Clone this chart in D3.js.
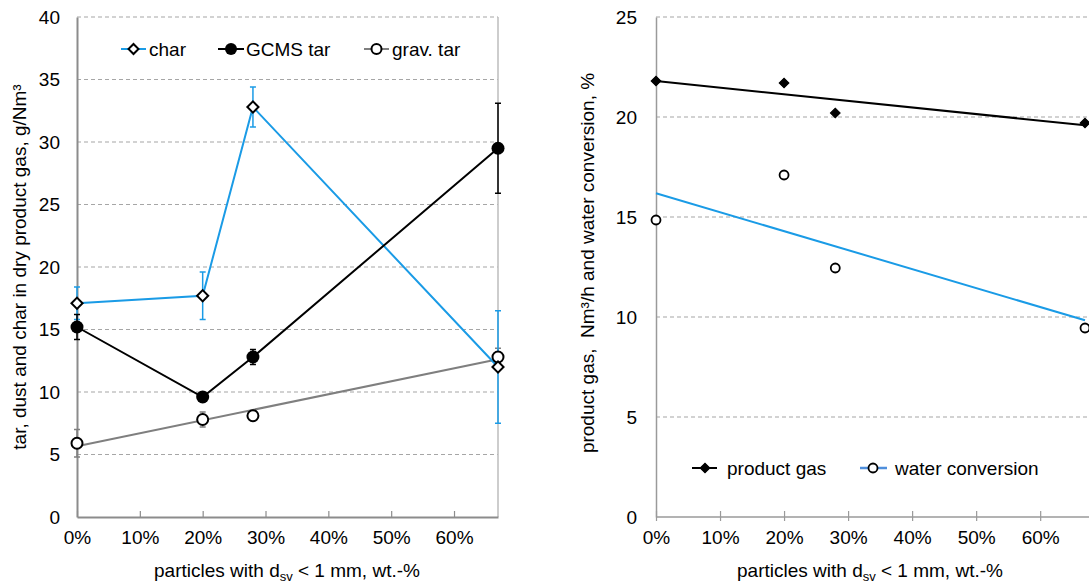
<!DOCTYPE html>
<html>
<head>
<meta charset="utf-8">
<script src="https://cdn.jsdelivr.net/npm/d3@7"></script>
<style>
  html, body { margin: 0; padding: 0; background: #fff; overflow: hidden; }
  svg { display: block; font-family: "Liberation Sans", Arial, sans-serif; }
  text { fill: #000; }
</style>
</head>
<body>
<svg id="chart" width="1089" height="583"></svg>
<script>
// ---------- data ----------
const fineShare = [0, 0.20, 0.28, 0.67];            // particles with d_sv < 1 mm, wt.-%
const xTickValues = [0, 0.1, 0.2, 0.3, 0.4, 0.5, 0.6];

// left chart (g/Nm³)
const charValues = [17.1, 17.7, 32.8, 12.0];
const charErrors = [1.3, 1.9, 1.6, 4.5];
const gcmsValues = [15.2, 9.6, 12.8, 29.5];
const gcmsErrors = [1.0, 0.3, 0.6, 3.6];
const gravValues = [5.9, 7.8, 8.1, 12.8];
const gravErrors = [1.1, 0.6, 0.0, 0.7];
const leftYTicks = [0, 5, 10, 15, 20, 25, 30, 35, 40];

// right chart
const gasValues = [21.8, 21.7, 20.2, 19.7];          // Nm³/h
const waterValues = [14.85, 17.1, 12.45, 9.45];      // %
const rightYTicks = [0, 5, 10, 15, 20, 25];

// ---------- helpers ----------
const svg = d3.select("#chart");
const FS = 19;
const BLUE = "#1a9be6";

function linReg(xs, ys) {
  const n = xs.length;
  const mx = d3.mean(xs), my = d3.mean(ys);
  let sxy = 0, sxx = 0;
  for (let i = 0; i < n; i++) { sxy += (xs[i]-mx)*(ys[i]-my); sxx += (xs[i]-mx)**2; }
  const b = sxy / sxx, a = my - b * mx;
  return x => a + b * x;
}

function drawDiamond(g, x, y, size, fill, stroke, sw) {
  g.append("path").attr("d", d3.symbol().type(d3.symbolSquare).size(size)())
    .attr("transform", `translate(${x},${y}) rotate(45)`)
    .attr("fill", fill).attr("stroke", stroke).attr("stroke-width", sw);
}

function xLabel(g, cx, y) {
  const t = g.append("text").attr("x", cx).attr("y", y).attr("text-anchor", "middle")
    .attr("font-size", FS);
  t.append("tspan").text("particles with d");
  t.append("tspan").attr("font-size", 13).attr("dy", 4).text("sv");
  t.append("tspan").attr("dy", -4).text(" < 1 mm, wt.-%");
}

// ================= LEFT CHART =================
{
  const x = d3.scaleLinear().domain([0, 0.67]).range([77, 498]);
  const y = d3.scaleLinear().domain([0, 40]).range([517, 17]);
  const g = svg.append("g");

  // gridlines
  g.append("g").selectAll("line").data(leftYTicks.filter(d => d > 0)).join("line")
    .attr("x1", x(0)).attr("x2", x(0.67)).attr("y1", d => y(d)).attr("y2", d => y(d))
    .attr("stroke", "#a6a6a6").attr("stroke-width", 1.2).attr("stroke-dasharray", "4,3");
  // right border
  g.append("line").attr("x1", x(0.67)).attr("x2", x(0.67)).attr("y1", y(40)).attr("y2", y(0))
    .attr("stroke", "#bdbdbd").attr("stroke-width", 1.5);

  // x axis
  const xa = g.append("g").attr("transform", `translate(0,${y(0)})`)
    .call(d3.axisBottom(x).tickValues(xTickValues).tickFormat(d3.format(".0%")).tickSizeInner(-6).tickSizeOuter(0).tickPadding(14));
  xa.select(".domain").attr("stroke", "#8c8c8c").attr("stroke-width", 2);
  xa.selectAll(".tick line").attr("stroke", "#8c8c8c").attr("stroke-width", 1.2);
  xa.selectAll("text").attr("font-size", FS).attr("font-family", "Liberation Sans, Arial, sans-serif");

  // y axis
  const ya = g.append("g").attr("transform", `translate(${x(0)},0)`)
    .call(d3.axisLeft(y).tickValues(leftYTicks).tickSize(0).tickPadding(17));
  ya.select(".domain").attr("stroke", "#8c8c8c").attr("stroke-width", 2);
  ya.selectAll("text").attr("font-size", FS).attr("font-family", "Liberation Sans, Arial, sans-serif");

  // axis labels
  g.append("text").attr("transform", `translate(26,${y(20)}) rotate(-90)`)
    .attr("text-anchor", "middle").attr("font-size", FS)
    .text("tar, dust and char in dry product gas, g/Nm³");
  xLabel(g, 287, 577);

  const pts = vals => fineShare.map((f, i) => [x(f), y(vals[i])]);

  // grav tar trendline
  const gravFit = linReg(fineShare, gravValues);
  g.append("line").attr("x1", x(0)).attr("y1", y(gravFit(0))).attr("x2", x(0.67)).attr("y2", y(gravFit(0.67)))
    .attr("stroke", "#7f7f7f").attr("stroke-width", 2);

  // error bars
  function errBars(vals, errs, color) {
    fineShare.forEach((f, i) => {
      if (!errs[i]) return;
      const cx = x(f), y1 = y(vals[i] + errs[i]), y2 = y(vals[i] - errs[i]);
      g.append("line").attr("x1", cx).attr("x2", cx).attr("y1", y1).attr("y2", y2).attr("stroke", color).attr("stroke-width", 1.5);
      [y1, y2].forEach(yy => g.append("line").attr("x1", cx - 3).attr("x2", cx + 3).attr("y1", yy).attr("y2", yy).attr("stroke", color).attr("stroke-width", 1.5));
    });
  }
  errBars(gravValues, gravErrors, "#7f7f7f");
  errBars(charValues, charErrors, BLUE);
  errBars(gcmsValues, gcmsErrors, "#000");

  const line = d3.line();
  g.append("path").attr("d", line(pts(charValues))).attr("fill", "none").attr("stroke", BLUE).attr("stroke-width", 2);
  g.append("path").attr("d", line(pts(gcmsValues))).attr("fill", "none").attr("stroke", "#000").attr("stroke-width", 2);

  // markers
  pts(gravValues).forEach(([px, py]) => g.append("circle").attr("cx", px).attr("cy", py).attr("r", 5.5)
    .attr("fill", "#fff").attr("stroke", "#000").attr("stroke-width", 2));
  pts(gcmsValues).forEach(([px, py]) => g.append("circle").attr("cx", px).attr("cy", py).attr("r", 6.5).attr("fill", "#000"));
  pts(charValues).forEach(([px, py]) => drawDiamond(g, px, py, 62, "#fff", "#000", 2));

  // legend
  const ly = 49;
  const leg = g.append("g");
  leg.append("line").attr("x1", 121).attr("x2", 146).attr("y1", ly).attr("y2", ly).attr("stroke", BLUE).attr("stroke-width", 2);
  drawDiamond(leg, 133.5, ly, 50, "#fff", "#000", 2);
  leg.append("text").attr("x", 149).attr("y", ly + 7).attr("font-size", FS).text("char");
  leg.append("line").attr("x1", 218).attr("x2", 244).attr("y1", ly).attr("y2", ly).attr("stroke", "#000").attr("stroke-width", 2);
  leg.append("circle").attr("cx", 231).attr("cy", ly).attr("r", 6).attr("fill", "#000");
  leg.append("text").attr("x", 246).attr("y", ly + 7).attr("font-size", FS).text("GCMS tar");
  leg.append("line").attr("x1", 364).attr("x2", 389).attr("y1", ly).attr("y2", ly).attr("stroke", "#7f7f7f").attr("stroke-width", 2);
  leg.append("circle").attr("cx", 376.5).attr("cy", ly).attr("r", 5).attr("fill", "#fff").attr("stroke", "#000").attr("stroke-width", 2);
  leg.append("text").attr("x", 392).attr("y", ly + 7).attr("font-size", FS).text("grav. tar");
}

// ================= RIGHT CHART =================
{
  const x = d3.scaleLinear().domain([0, 0.67]).range([656, 1085]);
  const y = d3.scaleLinear().domain([0, 25]).range([517, 17]);
  const g = svg.append("g");

  g.append("g").selectAll("line").data(rightYTicks.filter(d => d > 0)).join("line")
    .attr("x1", x(0)).attr("x2", 1089).attr("y1", d => y(d)).attr("y2", d => y(d))
    .attr("stroke", "#a6a6a6").attr("stroke-width", 1.2).attr("stroke-dasharray", "4,3");

  const xa = g.append("g").attr("transform", `translate(0,${y(0)})`)
    .call(d3.axisBottom(x).tickValues(xTickValues).tickFormat(d3.format(".0%")).tickSizeInner(-6).tickSizeOuter(0).tickPadding(14));
  xa.select(".domain").attr("stroke", "#9a9a9a").attr("stroke-width", 1.5).attr("d", `M${x(0)},0H1089`);
  xa.selectAll(".tick line").attr("stroke", "#9a9a9a").attr("stroke-width", 1.2).attr("y1", 4);
  xa.selectAll("text").attr("font-size", FS).attr("font-family", "Liberation Sans, Arial, sans-serif");

  const ya = g.append("g").attr("transform", `translate(${x(0)},0)`)
    .call(d3.axisLeft(y).tickValues(rightYTicks).tickSize(0).tickPadding(19));
  ya.select(".domain").attr("stroke", "#9a9a9a").attr("stroke-width", 1.5);
  ya.selectAll("text").attr("font-size", FS).attr("font-family", "Liberation Sans, Arial, sans-serif");

  g.append("text").attr("transform", `translate(594,${y(12.7)}) rotate(-90)`)
    .attr("text-anchor", "middle").attr("font-size", FS).attr("xml:space", "preserve")
    .style("white-space", "pre")
    .text("product gas,  Nm³/h and water conversion, %");
  xLabel(g, 870, 577);

  const gasFit = linReg(fineShare, gasValues);
  const waterFit = linReg(fineShare, waterValues);
  g.append("line").attr("x1", x(0)).attr("y1", y(gasFit(0))).attr("x2", x(0.67)).attr("y2", y(gasFit(0.67)))
    .attr("stroke", "#000").attr("stroke-width", 2);
  g.append("line").attr("x1", x(0)).attr("y1", y(waterFit(0))).attr("x2", x(0.67)).attr("y2", y(waterFit(0.67)))
    .attr("stroke", BLUE).attr("stroke-width", 2);

  fineShare.forEach((f, i) => drawDiamond(g, x(f), y(gasValues[i]), 48, "#000", "#000", 1));
  fineShare.forEach((f, i) => g.append("circle").attr("cx", x(f)).attr("cy", y(waterValues[i])).attr("r", 4.5)
    .attr("fill", "#fff").attr("stroke", "#000").attr("stroke-width", 1.8));

  const ly = 468;
  const leg = g.append("g");
  leg.append("line").attr("x1", 692).attr("x2", 717).attr("y1", ly).attr("y2", ly).attr("stroke", "#000").attr("stroke-width", 2);
  drawDiamond(leg, 705, ly, 48, "#000", "#000", 1);
  leg.append("text").attr("x", 727).attr("y", ly + 7).attr("font-size", FS).text("product gas");
  leg.append("line").attr("x1", 860).attr("x2", 887).attr("y1", ly).attr("y2", ly).attr("stroke", "#4f8fdc").attr("stroke-width", 2.5);
  leg.append("circle").attr("cx", 873).attr("cy", ly).attr("r", 4.5).attr("fill", "#fff").attr("stroke", "#000").attr("stroke-width", 1.8);
  leg.append("text").attr("x", 895).attr("y", ly + 7).attr("font-size", FS).text("water conversion");
}
</script>
</body>
</html>
